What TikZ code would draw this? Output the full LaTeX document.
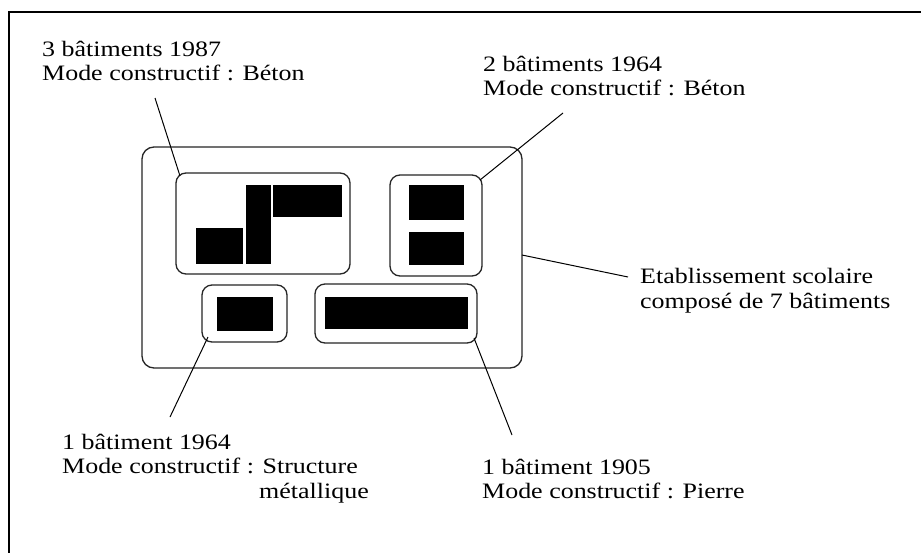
\documentclass[tikz,border=0pt]{standalone}
\usepackage{fontspec}
\setmainfont[FakeStretch=1.18]{Liberation Serif}
\begin{document}
\begin{tikzpicture}[x=1pt,y=-1pt,
  lbl/.style={anchor=base west,inner sep=0pt,font=\fontsize{22}{24}\selectfont},
  grp/.style={draw=black!85,line width=1.3pt,rounded corners=10pt},
  bld/.style={fill=black,draw=none},
  lead/.style={draw=black,line width=1pt}]
\useasboundingbox (0,0) rectangle (921,552);
\fill[white] (0,0) rectangle (921,552);
% frame (left and top)
\draw[line width=2.4pt] (9,553) -- (9,12) -- (922,12);
% outer establishment box
\draw[grp,rounded corners=12pt] (142,147) rectangle (522,368);
% group boxes
\draw[grp] (176,173) rectangle (350,274);
\draw[grp] (390,175) rectangle (482,276);
\draw[grp] (202,285) rectangle (287,342);
\draw[grp] (315,284) rectangle (477,343);
% buildings
\fill[bld] (196,228) rectangle (243,264);
\fill[bld] (246,185) rectangle (271,264);
\fill[bld] (273,185) rectangle (342,217);
\fill[bld] (409,185) rectangle (464,220);
\fill[bld] (409,232) rectangle (464,265);
\fill[bld] (217,297) rectangle (273,331);
\fill[bld] (325,297) rectangle (468,329);
% labels
\node[lbl] (ta1) at (42,56) {3 bâtiments 1987};
\node[lbl] (ta2) at (42,80) {Mode constructif : Béton};
\node[lbl] (tb1) at (483,71) {2 bâtiments 1964};
\node[lbl] (tb2) at (483,95) {Mode constructif : Béton};
\node[lbl] (te1) at (640,283) {Etablissement scolaire};
\node[lbl] (te2) at (640,308) {composé de 7 bâtiments};
\node[lbl] (tc1) at (62,449) {1 bâtiment 1964};
\node[lbl] (tc2) at (62,473) {Mode constructif : Structure};
\node[lbl] (tc3) at (259,498) {métallique};
\node[lbl] (td1) at (482,474) {1 bâtiment 1905};
\node[lbl] (td2) at (482,498) {Mode constructif : Pierre};
% leader end points
\coordinate (la0) at (155,98);  \coordinate (la1) at (180,176);
\coordinate (lb0) at (563,113); \coordinate (lb1) at (480,180);
\coordinate (le0) at (522,255); \coordinate (le1) at (628,277);
\coordinate (lc0) at (208,337); \coordinate (lc1) at (170,417);
\coordinate (ld0) at (474,338); \coordinate (ld1) at (512,435);
\draw[lead] (la0) -- (la1);
\draw[lead] (lb0) -- (lb1);
\draw[lead] (le0) -- (le1);
\draw[lead] (lc0) -- (lc1);
\draw[lead] (ld0) -- (ld1);
\end{tikzpicture}
\end{document}
